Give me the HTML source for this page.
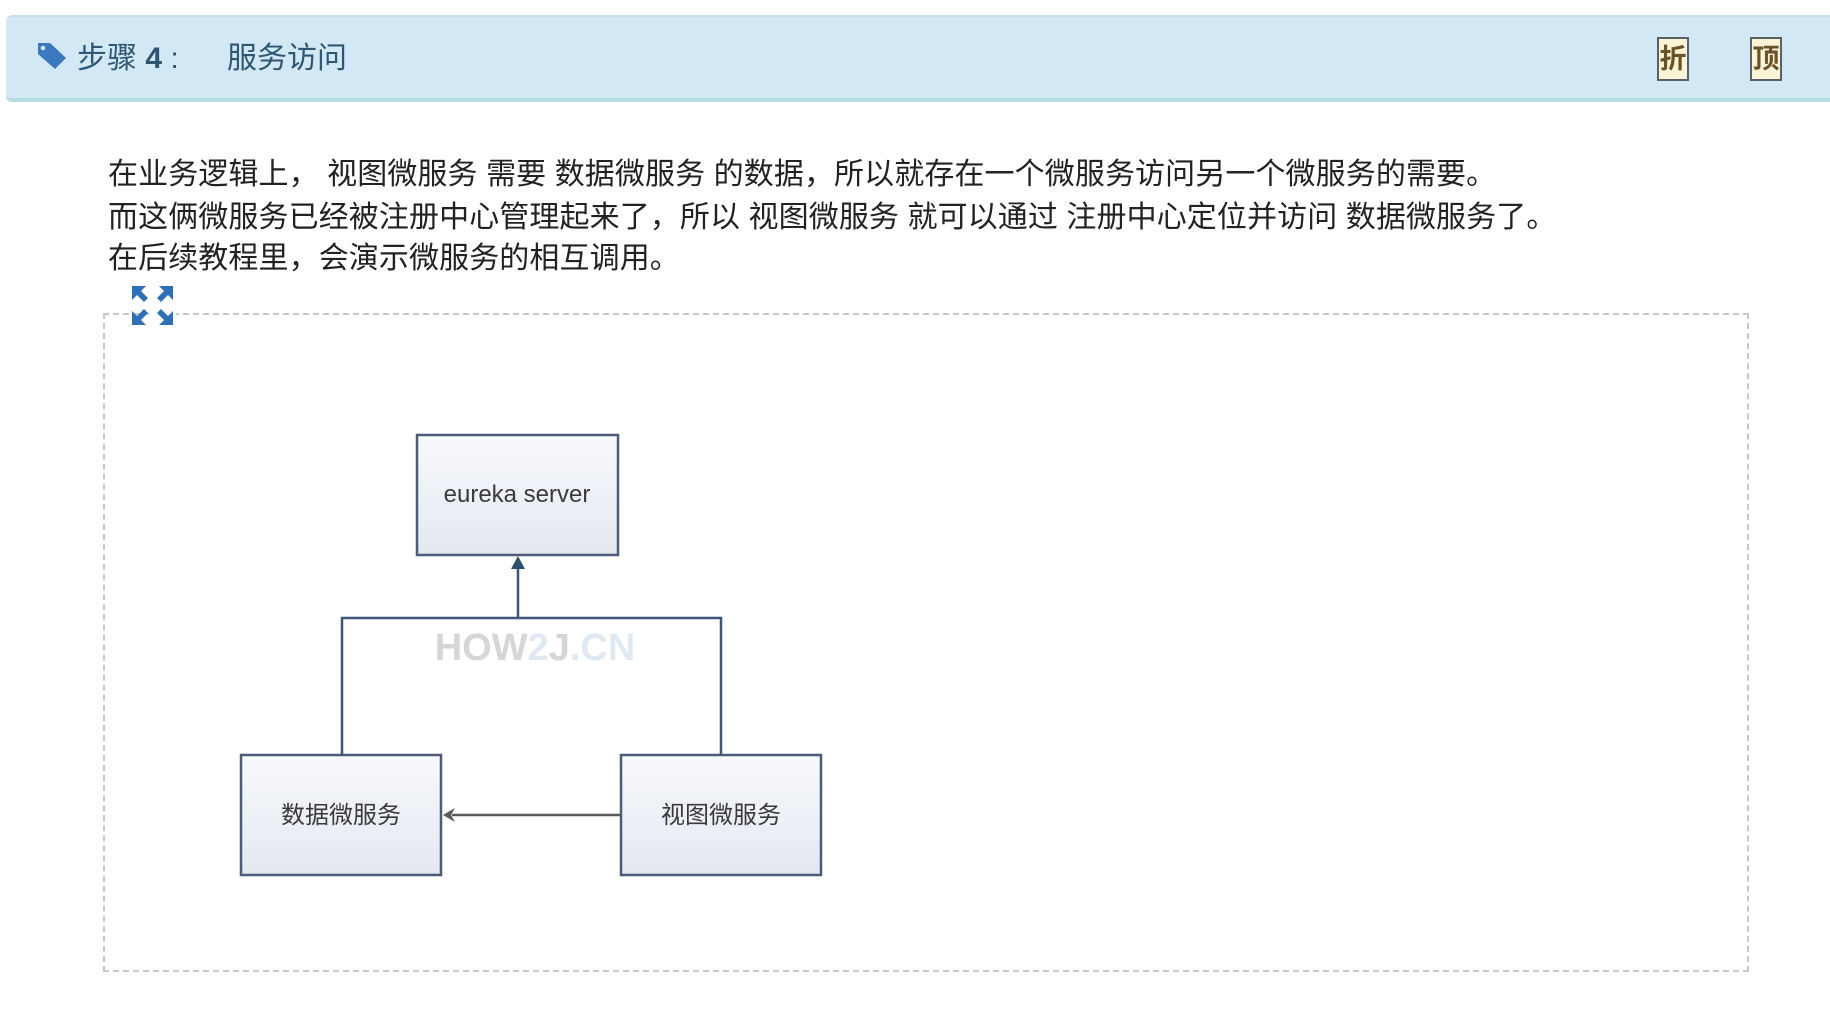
<!DOCTYPE html>
<html><head><meta charset="utf-8"><style>
html,body{margin:0;padding:0;background:#fff;width:1830px;height:1022px;overflow:hidden;font-family:"Liberation Sans","Noto Sans CJK SC",sans-serif;}
.hdr{position:absolute;left:6px;top:15px;width:1830px;height:87px;background:#d2e8f5;border-top:2px solid #c2e2ea;border-bottom:4px solid #b3dde4;border-radius:6px 0 0 6px;box-sizing:border-box;}
.t{position:absolute;color:#2f5673;font-size:30px;line-height:30px;}
.btn{position:absolute;top:37px;width:32px;height:44px;background:#fdf3d6;border:2px solid #5a6068;box-sizing:border-box;color:#6a5228;font-weight:bold;font-size:27px;line-height:40px;text-align:center;}
.p{position:absolute;left:108px;font-size:30px;letter-spacing:0.1px;color:#222;white-space:nowrap;line-height:32px;}
</style></head><body>
<div class="hdr"></div>
<svg style="position:absolute;left:36px;top:41px" width="34" height="30" viewBox="0 0 34 30"><path d="M2 2 L14 2 L30 17 L19 28 L2 13 Z" fill="#3a78c0"/><circle cx="7" cy="7" r="2.3" fill="#d2e8f5"/></svg>
<div class="t" style="left:77px;top:44px">步骤 <b>4</b> :</div>
<div class="t" style="left:227px;top:44px">服务访问</div>
<div class="btn" style="left:1657px">折</div>
<div class="btn" style="left:1750px">顶</div>
<div class="p" style="top:159px">在业务逻辑上， 视图微服务 需要 数据微服务 的数据，所以就存在一个微服务访问另一个微服务的需要。</div>
<div class="p" style="top:202px">而这俩微服务已经被注册中心管理起来了，所以 视图微服务 就可以通过 注册中心定位并访问 数据微服务了。</div>
<div class="p" style="top:243px">在后续教程里，会演示微服务的相互调用。</div>
<div style="position:absolute;left:103px;top:313px;width:1646px;height:659px;border:2px dashed #c8c8c8;box-sizing:border-box"></div>
<svg style="position:absolute;left:0;top:0" width="1830" height="1022">
<defs><linearGradient id="g" x1="0" y1="0" x2="0" y2="1"><stop offset="0" stop-color="#f8f9fc"/><stop offset="1" stop-color="#e3e8f1"/></linearGradient></defs>
<rect x="150" y="286" width="26" height="40" fill="#fff"/>
<g fill="#2f6fb5">
<path d="M132 286 L146 286 L141 291 L148 298 L144 302 L137 295 L132 300 Z"/>
<path d="M173 286 L159 286 L164 291 L157 298 L161 302 L168 295 L173 300 Z"/>
<path d="M132 325 L146 325 L141 320 L148 313 L144 309 L137 316 L132 311 Z"/>
<path d="M173 325 L159 325 L164 320 L157 313 L161 309 L168 316 L173 311 Z"/>
</g>
<g fill="url(#g)" stroke="#4b5b78" stroke-width="2.5">
<rect x="417" y="435" width="201" height="120"/>
<rect x="241" y="755" width="200" height="120"/>
<rect x="621" y="755" width="200" height="120"/>
</g>
<g stroke="#3e5677" stroke-width="2.5" fill="none">
<path d="M342 755 V618 H721 V755"/>
<path d="M518 618 V565"/>
</g>
<path d="M511 569 L518 556 L525 569 Z" fill="#2f4f72"/>
<path d="M621 815 H452" stroke="#5a5a5a" stroke-width="2.5"/>
<path d="M455 808 L443 815 L455 822 L451 815 Z" fill="#5a5a5a"/>
<text x="535" y="660" text-anchor="middle" font-family="Liberation Sans" font-weight="bold" font-size="38" fill="#d6d6d6">HOW<tspan fill="#dfe9f3">2</tspan>J<tspan fill="#dfe9f3">.CN</tspan></text>
<g font-family="Liberation Sans,Noto Sans CJK SC,sans-serif" font-size="24" fill="#3a3a3a" text-anchor="middle">
<text x="517" y="502">eureka server</text>
<text x="341" y="823">数据微服务</text>
<text x="721" y="823">视图微服务</text>
</g>
</svg>
</body></html>
